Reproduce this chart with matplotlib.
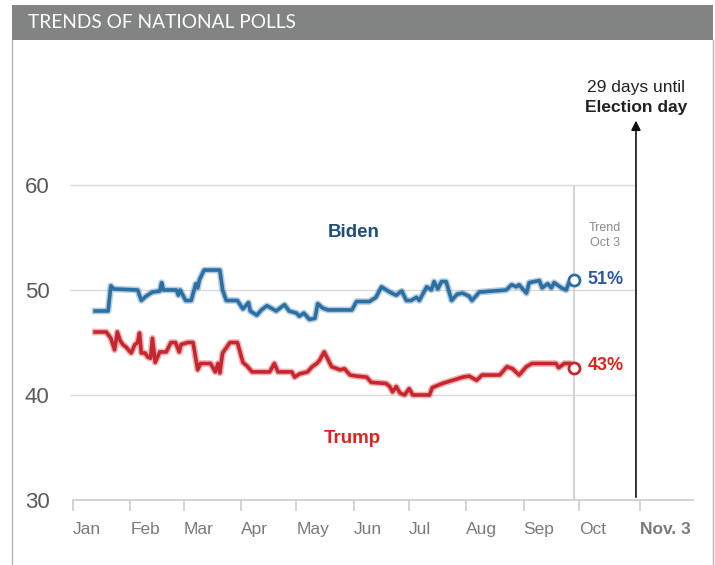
import matplotlib.pyplot as plt
from matplotlib.patches import Rectangle
from matplotlib.lines import Line2D

# Dados (dia do ano 2020, % nas pesquisas)
BIDEN_DIA = [12, 19, 20.5, 22, 35, 37, 39.5, 43, 47, 48, 49, 56, 57, 58, 61, 64, 66.5, 67.5, 68.5, 71,
             79.5, 81, 83, 89, 92, 95, 96, 99.5, 102, 105, 108, 110, 114.5, 117, 121, 122.5, 125, 128,
             131, 132.5, 135, 138, 151, 153.5, 160.5, 164, 167, 171.5, 175, 178, 180.5, 183, 186, 187.5,
             191.5, 194, 195.5, 197.5, 199.5, 202, 205, 208, 211, 214.5, 216, 220, 234.5, 237.5, 240,
             241.5, 245.5, 247, 252.5, 254, 257, 259, 260.5, 264.5, 267, 268.5, 271.5]
BIDEN_VAL = [48.0, 48.0, 50.4, 50.1, 50.0, 49.0, 49.4, 49.8, 49.9, 50.7, 50.0, 50.0, 49.5, 50.0, 49.0,
             49.0, 50.6, 50.2, 51.0, 51.9, 51.9, 50.0, 49.0, 49.0, 48.2, 48.8, 48.0, 47.6, 48.1, 48.5,
             48.2, 48.0, 48.6, 48.0, 47.8, 47.5, 47.8, 47.2, 47.3, 48.7, 48.3, 48.1, 48.1, 48.9, 48.9,
             49.3, 50.3, 49.8, 49.5, 49.9, 49.0, 49.0, 49.3, 49.0, 50.3, 50.0, 50.8, 50.1, 50.8, 50.8,
             49.0, 49.6, 49.7, 49.4, 49.0, 49.8, 50.0, 50.5, 50.3, 50.5, 49.7, 50.7, 50.9, 50.2, 50.6,
             50.2, 50.7, 50.2, 50.0, 50.7, 51.0]

TRUMP_DIA = [12, 18, 20.5, 22.5, 24, 25.5, 27, 28.5, 31.5, 33.5, 35, 36, 37, 39, 40.5, 42, 43, 44.5,
             47, 50.5, 53, 55.5, 57.5, 58.5, 62, 65, 67.5, 69, 71, 74.5, 77, 78.5, 79.5, 81, 83, 85,
             89, 92, 94, 97, 106.5, 109, 111, 118.5, 120, 122.5, 127, 129.5, 132, 133.5, 136, 140,
             144.5, 147, 150, 153.5, 159, 161.5, 169.5, 171.5, 173, 175, 177, 179.5, 182, 184, 193,
             194.5, 200, 205.5, 211, 214.5, 218.5, 221.5, 231, 235, 238, 241.5, 245.5, 248.5, 261.5,
             263, 266, 269.5, 271.5]
TRUMP_VAL = [46.0, 46.0, 45.4, 44.3, 46.0, 45.2, 44.8, 44.6, 44.0, 44.8, 45.0, 45.9, 44.0, 44.0, 43.6,
             43.5, 45.4, 43.1, 44.1, 44.1, 45.0, 45.0, 44.1, 44.8, 45.0, 45.0, 42.4, 43.0, 43.0, 43.0,
             42.2, 43.0, 42.1, 44.0, 44.5, 45.0, 45.0, 43.1, 42.8, 42.2, 42.2, 43.0, 42.2, 42.2, 41.7,
             42.0, 42.2, 42.7, 43.0, 43.3, 44.1, 42.7, 42.4, 42.5, 41.9, 41.8, 41.7, 41.2, 41.1, 40.8,
             40.3, 40.8, 40.2, 40.0, 40.6, 40.0, 40.0, 40.7, 41.1, 41.4, 41.7, 41.8, 41.4, 41.9, 41.9,
             42.7, 42.5, 41.9, 42.7, 43.0, 43.0, 42.6, 43.0, 43.0, 42.6]

MESES = ['Jan', 'Feb', 'Mar', 'Apr', 'May', 'Jun', 'Jul', 'Aug', 'Sep', 'Oct', 'Nov. 3']
MESES_DIA = [0, 31, 60, 91, 121, 152, 182, 213, 244, 274, 307]
Y_TICKS = [30, 40, 50, 60]

AZUL = '#2b6fa3'
VERMELHO = '#c8262d'
plt.rcParams['font.family'] = ['Liberation Sans', 'DejaVu Sans']

fig = plt.figure(figsize=(7.15, 5.65), dpi=100)
W, H = 715, 565

# cabeçalho cinza e moldura
fig.patches.append(Rectangle((12 / W, 1 - 40 / H), 701 / W, 35 / H, transform=fig.transFigure,
                             facecolor='#818483', edgecolor='none'))
fig.lines.append(Line2D([12 / W, 12 / W], [0, 1 - 40 / H], transform=fig.transFigure, color='#b5b5b5', lw=1))
fig.lines.append(Line2D([713 / W, 713 / W], [0, 1 - 40 / H], transform=fig.transFigure, color='#b5b5b5', lw=1))
fig.text(28 / W, 1 - 22 / H, 'TRENDS OF NATIONAL POLLS', color='white', fontsize=13.8,
         family='Lato', va='center', ha='left')

ax = fig.add_axes([73 / W, 65 / H, 620 / W, 420 / H])
ax.set_xlim(0, 620 / 1.847)
ax.set_ylim(30, 70)

for s in ['top', 'right', 'left']:
    ax.spines[s].set_visible(False)
ax.spines['bottom'].set_color('#cccccc')
ax.spines['bottom'].set_linewidth(1.2)

ax.hlines([40, 50, 60], -1.6, 305, color='#d9d9d9', lw=1, clip_on=False, zorder=1)
ax.vlines(271.5, 30, 60, color='#cccccc', lw=1.2, zorder=1)

ax.set_yticks(Y_TICKS)
ax.set_yticklabels([str(v) for v in Y_TICKS], fontsize=16, color='#5a5a5a')
ax.tick_params(axis='y', length=0, pad=17)

ax.set_xticks(MESES_DIA)
ax.set_xticklabels(MESES, fontsize=12.5, color='#7a7a7a', ha='left')
ax.tick_params(axis='x', length=8, width=1.2, color='#cccccc', direction='out', pad=8)
ax.get_xticklabels()[-1].set_fontweight('bold')

# linhas com halo suave
ax.plot(BIDEN_DIA, BIDEN_VAL, color=AZUL, lw=4.8, alpha=0.35, solid_joinstyle='round', zorder=2)
ax.plot(BIDEN_DIA, BIDEN_VAL, color=AZUL, lw=2.6, solid_joinstyle='round', zorder=3)
ax.plot(TRUMP_DIA, TRUMP_VAL, color=VERMELHO, lw=4.8, alpha=0.35, solid_joinstyle='round', zorder=2)
ax.plot(TRUMP_DIA, TRUMP_VAL, color=VERMELHO, lw=2.6, solid_joinstyle='round', zorder=3)
ax.plot(BIDEN_DIA[-1], BIDEN_VAL[-1], 'o', ms=8, mfc='white', mec=AZUL, mew=2, zorder=4)
ax.plot(TRUMP_DIA[-1], TRUMP_VAL[-1], 'o', ms=8, mfc='white', mec=VERMELHO, mew=2, zorder=4)

ax.text(152, 55.5, 'Biden', color='#1c4f7c', fontsize=13.5, fontweight='bold', ha='center', va='center')
ax.text(151, 35.9, 'Trump', color='#e3211c', fontsize=13.5, fontweight='bold', ha='center', va='center')
ax.text(288, 55.2, 'Trend\nOct 3', color='#8a8a8a', fontsize=9, ha='center',
        va='center', linespacing=1.3)
ax.text(278.5, BIDEN_VAL[-1], '51%', color='#2e59a5', fontsize=13, fontweight='bold',
        ha='left', va='center')
ax.text(278.5, TRUMP_VAL[-1] + 0.2, '43%', color='#e3211c', fontsize=13, fontweight='bold',
        ha='left', va='center')

# seta do dia da eleição
ax.annotate('', xy=(304.8, 66.4), xytext=(304.8, 30), annotation_clip=False,
            arrowprops=dict(arrowstyle='-|>', color='#111111', lw=1.2, mutation_scale=14))
ax.text(304.8, 69.3, '29 days until', fontsize=12.5, ha='center', va='center',
        color='#222222', clip_on=False)
ax.text(304.8, 67.4, 'Election day', fontsize=12.5, fontweight='bold', ha='center',
        va='center', color='#222222', clip_on=False)

fig.savefig('out.png', dpi=100)
